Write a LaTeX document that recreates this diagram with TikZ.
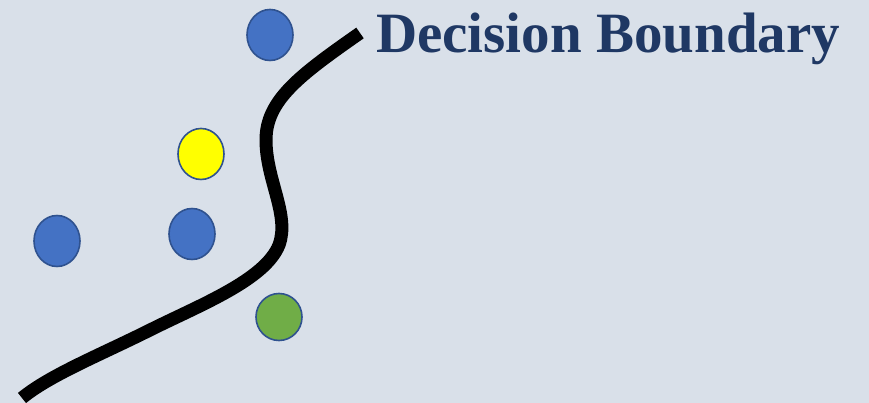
\documentclass[tikz,border=0pt]{standalone}
\usepackage{fontspec}
\setmainfont{Liberation Serif}
\usetikzlibrary{shapes.geometric}
\begin{document}
\begin{tikzpicture}[x=1pt,y=-1pt,
  dot/.style={draw=dotedge,line width=1.6pt,ellipse,minimum width=46pt,minimum height=51pt,inner sep=0pt},
  boundary/.style={line width=13pt,line cap=butt,black}]
\definecolor{bg}{HTML}{D9E0E9}
\definecolor{dotedge}{HTML}{2F528F}
\definecolor{dotblue}{HTML}{4472C4}
\definecolor{dotgreen}{HTML}{70AD47}
\definecolor{dotyellow}{HTML}{FFFF00}
\definecolor{title}{HTML}{1F3864}
\fill[bg] (0,0) rectangle (869,403);
\useasboundingbox (0,0) rectangle (869,403);
\node[dot,fill=dotblue] (b1) at (270,35) {};
\node[dot,fill=dotyellow] (y1) at (201,154) {};
\node[dot,fill=dotblue] (b2) at (57,241) {};
\node[dot,fill=dotblue] (b3) at (192,234) {};
\node[dot,fill=dotgreen,minimum height=47pt] (g1) at (279,317) {};
\coordinate (s) at (360,33);
\coordinate (e) at (22,398);
\draw[boundary] (s) .. controls (300,75) and (266,100) .. (266,140)
  .. controls (266,180) and (290,215) .. (279,245)
  .. controls (265,280) and (200,305) .. (150,330)
  .. controls (100,355) and (50,375) .. (e);
\node[anchor=base west,text=title,font=\bfseries\fontsize{57}{57}\selectfont,inner sep=0pt] (t) at (376,53) {Decision Boundary};
\end{tikzpicture}
\end{document}
